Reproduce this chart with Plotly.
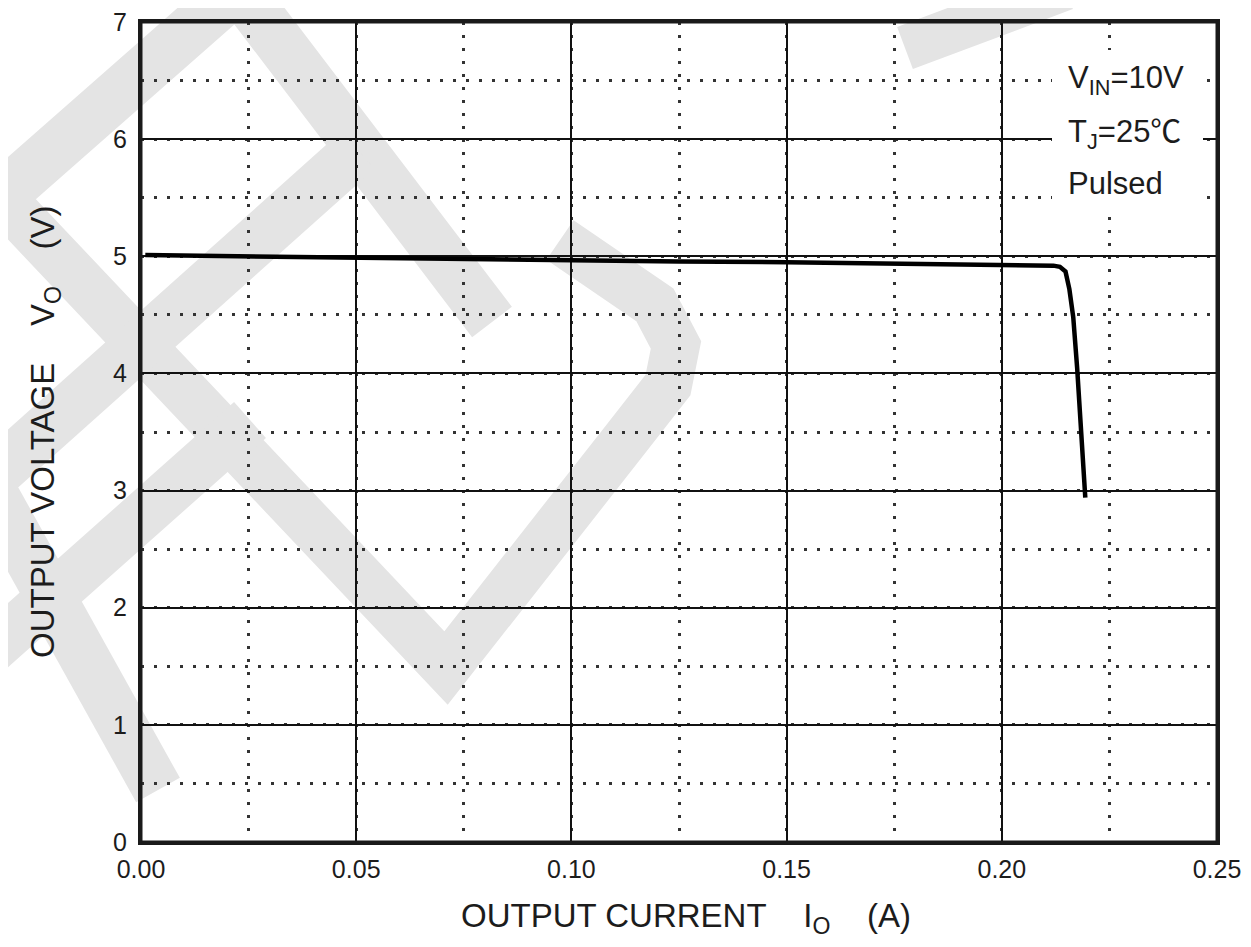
import plotly.graph_objects as go

# ---------------- data ----------------
current_a = [0.001, 0.025, 0.050, 0.060, 0.075, 0.100, 0.125, 0.150, 0.175,
             0.190, 0.205, 0.2120, 0.2135, 0.2148, 0.2157, 0.2166, 0.2175,
             0.2184, 0.2194]
voltage_v = [5.01, 5.00, 4.99, 4.98, 4.97, 4.96, 4.955, 4.95, 4.94,
             4.93, 4.93, 4.92, 4.91, 4.87, 4.72, 4.48, 4.05,
             3.50, 2.94]

x_tickvals = [0.00, 0.05, 0.10, 0.15, 0.20, 0.25]
x_ticktext = ["0.00", "0.05", "0.10", "0.15", "0.20", "0.25"]
y_tickvals = [0, 1, 2, 3, 4, 5, 6, 7]
y_ticktext = ["0", "1", "2", "3", "4", "5", "6", "7"]

x_title = "OUTPUT CURRENT\u00a0\u00a0\u00a0\u00a0I<sub>O</sub>\u00a0\u00a0\u00a0\u00a0(A)"
y_title = "OUTPUT VOLTAGE\u00a0\u00a0\u00a0\u00a0V<sub>O</sub>\u00a0\u00a0\u00a0\u00a0(V)"
cond_lines = ["V<sub>IN</sub>=10V", "T<sub>J</sub>=25\u2103", "Pulsed"]

X_RANGE = [0, 0.25]
Y_RANGE = [0, 7]

# ---------------- layout geometry (page pixels) ----------------
OFF = 8                      # default page body margin
PAGE_W, PAGE_H = 1251, 947
W, H = PAGE_W - OFF, PAGE_H - OFF
PX0, PX1, PY0, PY1 = 141, 1217, 22, 842   # plot box on the page
ML, MT = PX0 - OFF, PY0 - OFF
PW, PH = PX1 - PX0, PY1 - PY0
MR, MB = W - ML - PW, H - MT - PH
FONT = "Liberation Sans, Arial, Noto Sans CJK SC, sans-serif"
TXT = "#1c1c1c"
WM = "#e4e4e4"


def to_paper(x, y):
    return (x - PX0) / PW, (PY1 - y) / PH


def path_of(points, closed=False):
    parts = []
    for i, (x, y) in enumerate(points):
        px_, py_ = to_paper(x, y)
        parts.append(("M" if i == 0 else "L") + f"{px_:.5f},{py_:.5f}")
    return " ".join(parts) + (" Z" if closed else "")


shapes = []
# light-grey watermark (decoration behind the grid), page-pixel polylines
strokes = [
    ([(-20, 215), (238, -12), (492, 322)], 50),                       # outer chevron
    ([(-20, 175), (446, 668), (625, 440), (668, 385), (676, 345),
      (655, 305), (560, 240)], 48),                                   # V with hook
    ([(358, 150), (-20, 488)], 50),                                   # inner chevron leg
    ([(-20, 470), (158, 790)], 50),                                   # lower-left stroke
    ([(250, 420), (-20, 660)], 48),                                   # crossing stroke
    ([(905, 48), (1065, -12)], 45),                                   # top-right stroke
]
for pts, w in strokes:
    shapes.append(dict(type="path", xref="paper", yref="paper", layer="below",
                       path=path_of(pts), line=dict(color=WM, width=w)))

# white box behind the test-condition text (drawn over the grid, under the curve)
bx0, by0 = to_paper(1052, 50)
bx1, by1 = to_paper(1203, 210)
xs = X_RANGE[1] - X_RANGE[0]
ys = Y_RANGE[1] - Y_RANGE[0]
shapes.append(dict(type="rect", xref="x", yref="y", layer="between",
                   x0=X_RANGE[0] + bx0 * xs, x1=X_RANGE[0] + bx1 * xs,
                   y0=Y_RANGE[0] + by1 * ys, y1=Y_RANGE[0] + by0 * ys,
                   fillcolor="white", line=dict(width=0)))

# plot frame
shapes.append(dict(type="rect", xref="paper", yref="paper", layer="above",
                   x0=0, x1=1, y0=0, y1=1, fillcolor="rgba(0,0,0,0)",
                   line=dict(color="#1a1a1a", width=3)))

fig = go.Figure()
fig.add_trace(go.Scatter(x=current_a, y=voltage_v, mode="lines",
                         line=dict(color="black", width=4.5),
                         showlegend=False, hoverinfo="skip"))

annotations = [
    dict(text=x_title, xref="paper", yref="paper", x=to_paper(686, 0)[0],
         y=to_paper(0, 918)[1], xanchor="center", yanchor="middle",
         showarrow=False, font=dict(family=FONT, size=33, color=TXT)),
    dict(text=y_title, xref="paper", yref="paper", x=to_paper(45, 0)[0],
         y=to_paper(0, 432)[1], xanchor="center", yanchor="middle", textangle=-90,
         showarrow=False, font=dict(family=FONT, size=33, color=TXT)),
]
for line, ycen in zip(cond_lines, [80, 134, 184]):
    ax, ay = to_paper(1066, ycen)
    annotations.append(dict(text=line, xref="paper", yref="paper", x=ax, y=ay,
                            xanchor="left", yanchor="middle", showarrow=False,
                            font=dict(family=FONT, size=31, color=TXT)))

fig.update_layout(
    width=W, height=H,
    margin=dict(l=ML, r=MR, t=MT, b=MB, pad=0, autoexpand=False),
    paper_bgcolor="white", plot_bgcolor="rgba(0,0,0,0)",
    shapes=shapes, annotations=annotations,
    font=dict(family=FONT, color=TXT),
    xaxis=dict(range=X_RANGE, tickvals=x_tickvals, ticktext=x_ticktext,
               automargin=False, ticklabeloverflow="allow",
               showgrid=True, gridcolor="#111111", gridwidth=2,
               showline=True, linecolor="#1a1a1a", linewidth=3, mirror=True,
               ticks="", zeroline=False, tickfont=dict(size=25, color=TXT),
               ticklabelstandoff=3,
               minor=dict(dtick=0.025, tick0=0, showgrid=True,
                          gridcolor="#333333", gridwidth=2.5,
                          griddash="2.5px,10.5px")),
    yaxis=dict(range=Y_RANGE, tickvals=y_tickvals, ticktext=y_ticktext,
               automargin=False, ticklabeloverflow="allow",
               showgrid=True, gridcolor="#111111", gridwidth=2,
               showline=True, linecolor="#1a1a1a", linewidth=3, mirror=True,
               ticks="", zeroline=False, tickfont=dict(size=25, color=TXT),
               ticklabelstandoff=6,
               minor=dict(dtick=0.5, tick0=0, showgrid=True,
                          gridcolor="#333333", gridwidth=2.5,
                          griddash="2.5px,10.5px")),
)

fig.write_html("out.html")
